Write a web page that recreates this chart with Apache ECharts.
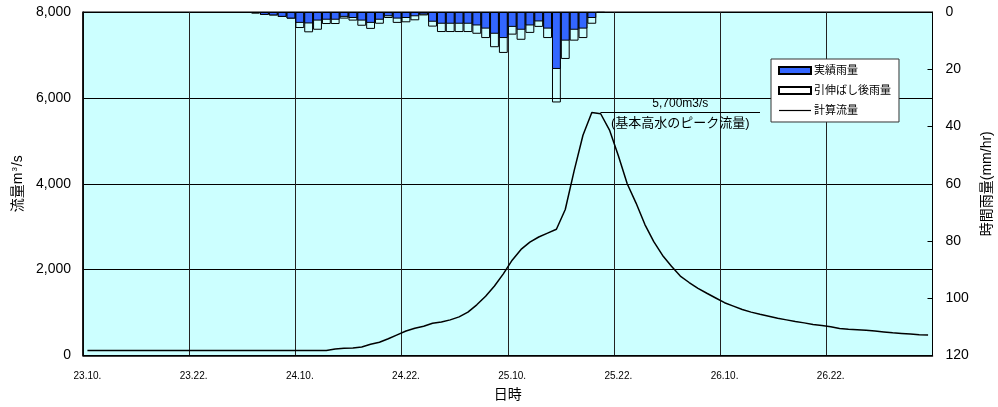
<!DOCTYPE html>
<html>
<head>
<meta charset="utf-8">
<script src="https://cdn.jsdelivr.net/npm/echarts@6/dist/echarts.min.js"></script>
<style>
html,body{margin:0;padding:0;background:#fff;}
#c{width:998px;height:407px;}
</style>
</head>
<body>
<div id="c"></div>
<script>
// Hourly time axis: 96 hours starting 23日10時
const startDay = 23, startHour = 10, hourCount = 96;
const categories = [];
for (let i = 0; i < hourCount; i++) {
  const t = startHour + i;
  categories.push((startDay + Math.floor(t / 24)) + '.' + (t % 24) + '.');
}

// Calculated discharge (m3/s), one value per hour
const flow = [
  115,115,115,115,115,115,115,115,115,115,
  115,115,115,115,115,115,115,115,115,115,
  115,115,115,115,115,115,115,115,150,170,
  175,200,260,310,390,480,570,635,680,750,
  780,830,900,1010,1180,1380,1620,1900,2220,2470,
  2640,2760,2850,2940,3400,4300,5130,5660,5630,5250,
  4650,4000,3550,3050,2650,2330,2080,1850,1700,1565,
  1450,1340,1230,1150,1070,1010,960,915,870,830,
  790,760,720,700,670,630,610,600,590,570,
  550,530,515,500,485,475
];

// Hourly rainfall (mm/hr), starting at hour index rainStart
const rainStart = 19;
const rainActual = [
  0.5,1.0,1.2,1.7,2.3,3.8,4.0,3.0,2.7,2.7,
  1.7,2.1,3.0,3.8,2.7,1.5,2.3,2.1,1.5,0.9,
  3.4,4.1,4.1,4.1,4.1,4.7,5.8,7.6,9.1,5.2,
  6.2,4.7,3.3,5.8,19.9,10.0,6.2,5.8,2.1,0.3
];
const rainExtended = [
  0.5,1.0,1.2,1.7,2.3,5.6,7.1,6.2,4.2,4.2,
  2.3,3.0,4.8,5.9,4.1,2.1,3.8,3.6,2.9,1.2,
  5.1,7.0,7.0,7.0,7.0,7.6,9.1,12.3,14.3,7.9,
  9.7,7.3,5.2,9.1,31.6,16.4,10.0,9.1,4.1,0.3
];

// Annotation: basic design peak discharge
const peakLineFlow = 5660;
const peakLineFrom = 58, peakLineTo = 76;
const peakText1 = '5,700m3/s';
const peakText2 = '(基本高水のピーク流量)';

// Axis setups
const flowMax = 8000, flowInterval = 2000;
const rainMax = 120, rainInterval = 20;

function pad(arr, start) {
  const out = new Array(hourCount).fill(null);
  arr.forEach((v, k) => { out[start + k] = v; });
  return out;
}

const FONT = '"Liberation Sans", Arial, "Noto Sans CJK JP", sans-serif';

const chart = echarts.init(document.getElementById('c'), null, {renderer: 'canvas'});
chart.setOption({
  animation: false,
  textStyle: {fontFamily: FONT, color: '#000'},
  grid: {
    left: 83, right: 65.5, top: 12, bottom: 51.5,
    containLabel: false, outerBoundsMode: 'none',
    show: true, backgroundColor: '#ccffff', borderColor: '#000', borderWidth: 1
  },
  legend: {
    orient: 'vertical',
    left: 771, top: 59,
    padding: [6, 8, 6, 7],
    backgroundColor: '#fff',
    borderColor: '#333', borderWidth: 1,
    itemWidth: 32, itemHeight: 7, itemGap: 9,
    textStyle: {fontSize: 11, fontFamily: FONT, color: '#000', padding: [0, 0, 0, -2]},
    data: [
      {name: '実績雨量', icon: 'rect'},
      {name: '引伸ばし後雨量', icon: 'rect'},
      {name: '計算流量', icon: 'path://M0,0H32V1.2H0Z'}
    ]
  },
  xAxis: {
    type: 'category',
    data: categories,
    boundaryGap: true,
    name: '日時',
    nameLocation: 'middle',
    nameGap: 33,
    nameTextStyle: {fontSize: 14, fontFamily: FONT, color: '#000'},
    axisLine: {lineStyle: {color: '#000', width: 1.5}},
    axisTick: {show: false, interval: 11},
    axisLabel: {interval: 11, fontSize: 10, color: '#000', margin: 16},
    splitLine: {show: true, interval: 11, lineStyle: {color: '#222', width: 1}}
  },
  yAxis: [
    {
      type: 'value', min: 0, max: flowMax, interval: flowInterval,
      name: '流量m{sup|3}/s',
      nameLocation: 'middle', nameGap: 56, nameRotate: 90,
      nameTextStyle: {fontSize: 14, fontFamily: FONT, color: '#000',
        rich: {sup: {fontSize: 8, verticalAlign: 'top', lineHeight: 10, fontFamily: FONT, padding: [0, 1, 6, 1]}}},
      axisLine: {show: true, lineStyle: {color: '#000', width: 1.5}},
      axisTick: {show: false},
      axisLabel: {fontSize: 14, color: '#000', margin: 12,
        formatter: v => v.toLocaleString('en-US')},
      splitLine: {show: true, lineStyle: {color: '#000', width: 1}}
    },
    {
      type: 'value', min: 0, max: rainMax, interval: rainInterval, inverse: true,
      position: 'right',
      name: '時間雨量(mm/hr)',
      nameLocation: 'middle', nameGap: 47, nameRotate: 90,
      nameTextStyle: {fontSize: 14, fontFamily: FONT, color: '#000'},
      axisLine: {show: true, lineStyle: {color: '#000', width: 1}},
      axisTick: {show: true, inside: true, length: 5, lineStyle: {color: '#000'}},
      axisLabel: {fontSize: 14, color: '#000', margin: 13},
      splitLine: {show: false}
    }
  ],
  series: [
    {
      name: '引伸ばし後雨量',
      type: 'bar',
      yAxisIndex: 1,
      barWidth: '100%',
      barGap: '-100%',
      data: pad(rainExtended, rainStart),
      itemStyle: {color: 'rgba(255,255,255,0)', borderColor: '#000', borderWidth: 1}
    },
    {
      name: '実績雨量',
      type: 'bar',
      yAxisIndex: 1,
      barWidth: '100%',
      barGap: '-100%',
      data: pad(rainActual, rainStart),
      itemStyle: {color: '#3366ff', borderColor: '#000', borderWidth: 1}
    },
    {
      name: '計算流量',
      type: 'line',
      yAxisIndex: 0,
      data: flow,
      symbol: 'none',
      lineStyle: {color: '#000', width: 1.5},
      itemStyle: {color: '#000'},
      markLine: {
        silent: true,
        symbol: 'none',
        lineStyle: {color: '#000', width: 1, type: 'solid'},
        data: [
          [
            {coord: [categories[peakLineFrom], peakLineFlow],
             label: {show: true, position: 'insideMiddleTop', formatter: peakText1, fontSize: 12, color: '#000', fontFamily: FONT, distance: 3}},
            {coord: [categories[peakLineTo], peakLineFlow]}
          ],
          [
            {coord: [categories[peakLineFrom], peakLineFlow],
             label: {show: true, position: 'insideMiddleBottom', formatter: peakText2, fontSize: 13, color: '#000', fontFamily: FONT, distance: 4}},
            {coord: [categories[peakLineTo], peakLineFlow]}
          ]
        ]
      }
    }
  ]
});
</script>
</body>
</html>
